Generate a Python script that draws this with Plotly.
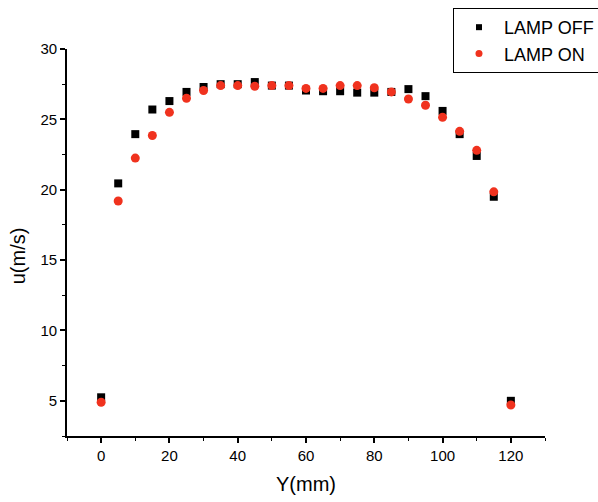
import plotly.graph_objects as go

# Position across the channel (mm)
y_pos = [0, 5, 10, 15, 20, 25, 30, 35, 40, 45, 50, 55, 60,
         65, 70, 75, 80, 85, 90, 95, 100, 105, 110, 115, 120]

# Mean velocity with the lamp switched off (m/s)
u_lamp_off = [5.25, 20.45, 23.95, 25.7, 26.3, 26.95, 27.3, 27.5, 27.5, 27.65, 27.4, 27.4, 27.05,
              27.0, 27.0, 26.9, 26.9, 26.95, 27.15, 26.65, 25.6, 23.95, 22.4, 19.5, 5.0]

# Mean velocity with the lamp switched on (m/s)
u_lamp_on = [4.9, 19.2, 22.25, 23.85, 25.5, 26.5, 27.05, 27.4, 27.4, 27.35, 27.4, 27.4, 27.2,
             27.2, 27.4, 27.4, 27.25, 26.95, 26.45, 26.0, 25.15, 24.15, 22.8, 19.85, 4.7]

x_ticks = [0, 20, 40, 60, 80, 100, 120]
y_ticks = [5, 10, 15, 20, 25, 30]

OFF_COLOR = "black"
ON_COLOR = "#f0321e"
FAMILY = "Liberation Sans, Arial, sans-serif"

fig = go.Figure()
fig.add_trace(go.Scatter(
    x=y_pos, y=u_lamp_off, mode="markers", name="LAMP OFF", showlegend=False,
    marker=dict(symbol="square", size=8, color=OFF_COLOR),
))
fig.add_trace(go.Scatter(
    x=y_pos, y=u_lamp_on, mode="markers", name="LAMP ON", showlegend=False,
    marker=dict(symbol="circle", size=9, color=ON_COLOR),
))
# legend entries with the small key symbols
fig.add_trace(go.Scatter(
    x=[None], y=[None], mode="markers", name="LAMP OFF",
    marker=dict(symbol="square", size=6, color=OFF_COLOR),
))
fig.add_trace(go.Scatter(
    x=[None], y=[None], mode="markers", name="LAMP ON",
    marker=dict(symbol="circle", size=7, color=ON_COLOR),
))

tick_font = dict(family=FAMILY, size=15, color="black")
title_font = dict(family=FAMILY, size=20, color="black")

axis_common = dict(
    showline=True, linecolor="black", linewidth=1.8,
    ticks="outside", ticklen=5, tickwidth=1.5, tickcolor="black",
    showgrid=False, zeroline=False, mirror=False,
    tickfont=tick_font,
)

fig.update_xaxes(
    range=[-10, 130], tickvals=x_ticks,
    minor=dict(dtick=10, tick0=-10, ticks="outside", ticklen=3, tickwidth=1.2, tickcolor="black"),
    title=dict(text="Y(mm)", font=title_font, standoff=14),
    **axis_common,
)
fig.update_yaxes(
    range=[2.5, 30], tickvals=y_ticks,
    minor=dict(dtick=2.5, tick0=0, ticks="outside", ticklen=3, tickwidth=1.2, tickcolor="black"),
    **axis_common,
)

fig.add_annotation(
    text="u(m/s)", textangle=-90, showarrow=False,
    xref="paper", yref="paper", x=-0.102, y=0.465,
    xanchor="center", yanchor="middle", font=title_font,
)

fig.update_layout(
    width=598, height=502,
    margin=dict(l=67, r=53, t=49, b=66, autoexpand=False),
    paper_bgcolor="white", plot_bgcolor="white",
    font=tick_font,
    legend=dict(
        x=0.8075, y=1.106, xanchor="left", yanchor="top",
        bordercolor="black", borderwidth=1, bgcolor="white",
        font=dict(family=FAMILY, size=18, color="black"),
        itemsizing="trace", itemwidth=40, tracegroupgap=0,
    ),
)

fig.write_html("out.html")
